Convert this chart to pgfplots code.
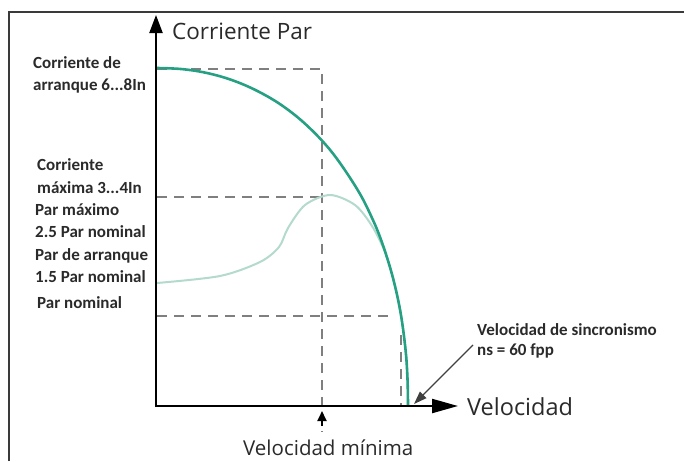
\documentclass[border=0pt]{standalone}
\usepackage{fontspec}
\usepackage{pgfplots}
\pgfplotsset{compat=1.18}
\usetikzlibrary{arrows.meta}
\setmainfont{Carlito}
\newfontfamily\bigfont{Open Sans}
\definecolor{currcol}{HTML}{26A082}
\definecolor{torqcol}{HTML}{B3DACC}
\definecolor{dashcol}{HTML}{7F7F7F}
\definecolor{framecol}{HTML}{3A3A3A}
\definecolor{txtcol}{HTML}{2A2A2A}
\begin{document}
\begin{tikzpicture}
\begin{axis}[
  width=684pt, height=461pt, scale only axis,
  xmin=0, xmax=684, ymin=0, ymax=461, y dir=reverse,
  hide axis, clip=false,
]
% frame
\addplot[framecol, line width=2pt] coordinates {(9,461) (9,12) (684,12)};
% dashed guide lines
\addplot[dashcol, line width=1.8pt, dash pattern=on 10pt off 7pt] coordinates {(157,69) (322,69) (322,432)};
\addplot[dashcol, line width=1.8pt, dash pattern=on 10pt off 7pt] coordinates {(157,197) (322,197)};
\addplot[dashcol, line width=1.8pt, dash pattern=on 10pt off 7pt] coordinates {(157,316) (393,316)};
\addplot[dashcol, line width=1.8pt, dash pattern=on 10pt off 7pt] coordinates {(401,335) (401,406)};
% torque curve
\addplot[torqcol, line width=2pt, smooth, tension=0.5] coordinates {
 (157,283) (220,276) (260,262) (279,247) (288,228) (305,205) (330,195)
 (355,205) (372,226) (385,252) (392.9,277.7) (400.5,312.3) (405.5,349.4)
 (407.5,379) (408,406)};
% current curve
\addplot[currcol, line width=2.6pt, smooth, tension=0.6] coordinates {
 (157,68) (182,69.1) (207,73) (232,80.1) (257,90.8) (282.5,105.8)
 (307.6,126.1) (332.7,153.2) (357.8,190.2) (372.9,219.9) (382.9,245.1)
 (392.9,277.7) (400.5,312.3) (405.5,349.4) (407.5,379) (408,406)};
% axes
\addplot[black, line width=2.2pt, -{Triangle[length=18pt,width=13pt]}] coordinates {(156,407) (156,15)};
\addplot[black, line width=2.2pt, -{Triangle[length=26pt,width=14pt]}] coordinates {(155,406) (458,406)};
% small arrows
\addplot[black, line width=1.8pt, -{Triangle[length=10pt,width=9pt]}] coordinates {(322,426) (322,411)};
\addplot[black!75, line width=1.3pt, -{Triangle[length=13pt,width=9pt]}] coordinates {(473,345) (414,404)};
% texts
\node[anchor=base west, inner sep=0pt, text=txtcol, font=\bigfont\fontsize{22.5}{26}\selectfont] at (axis cs:172,39) {Corriente Par};
\node[anchor=base west, inner sep=0pt, text=txtcol, font=\bigfont\fontsize{23.5}{27}\selectfont] at (axis cs:467,415) {Velocidad};
\node[anchor=base west, inner sep=0pt, text=txtcol, font=\bigfont\fontsize{20.5}{24}\selectfont] at (axis cs:243,455) {Velocidad mínima};
\begin{scope}[every node/.style={anchor=base west, inner sep=0pt, text=txtcol, font=\bfseries\fontsize{17}{21}\selectfont}]
\node at (axis cs:33,68) {Corriente de};
\node at (axis cs:33,90) {arranque 6...8In};
\node at (axis cs:37,170) {Corriente};
\node at (axis cs:37,193) {máxima 3...4In};
\node at (axis cs:35,215) {Par máximo};
\node at (axis cs:35,237) {2.5 Par nominal};
\node at (axis cs:35,260) {Par de arranque};
\node at (axis cs:35,282) {1.5 Par nominal};
\node at (axis cs:37,308) {Par nominal};
\node at (axis cs:477,335) {Velocidad de sincronismo};
\node at (axis cs:477,355) {ns = 60 fpp};
\end{scope}
\end{axis}
\pgfresetboundingbox
\path (current axis.south west) rectangle (current axis.north east);
\end{tikzpicture}
\end{document}
